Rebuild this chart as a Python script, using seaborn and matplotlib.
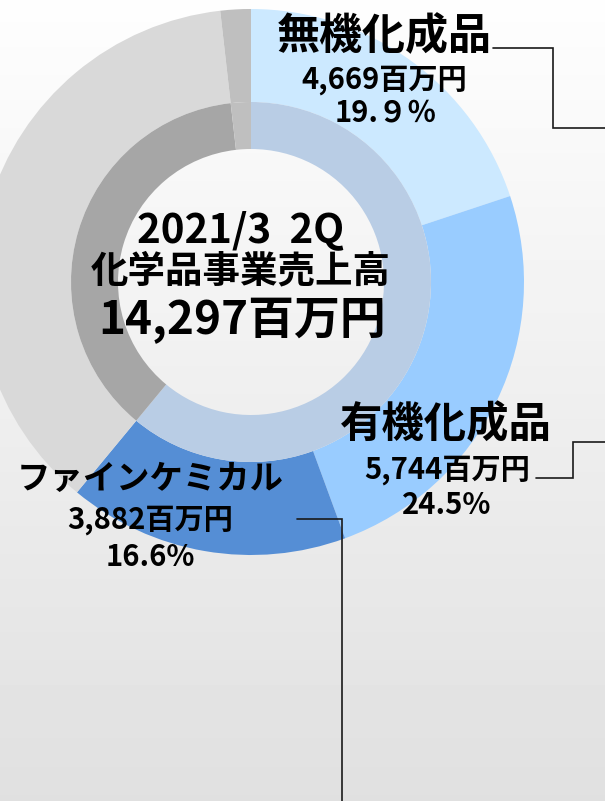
import numpy as np
import seaborn as sns
import matplotlib.pyplot as plt

sns.set_style("white")
plt.rcParams['font.family'] = ['Noto Sans CJK JP', 'DejaVu Sans']

# outer ring: chemical segments + other businesses
outer_labels = ['無機化成品', '有機化成品', 'ファインケミカル', 'その他', 'その他2']
outer_values = [19.9, 24.5, 16.6, 37.2, 1.8]
outer_amounts = ['4,669百万円', '5,744百万円', '3,882百万円']
outer_pcts = ['19.９％', '24.5%', '16.6%']

# inner ring: chemical total vs. rest
inner_values = [61.0, 37.2, 1.8]

outer_colors = sns.color_palette(['#cce9ff', '#99ccff', '#558ed5', '#d9d9d9', '#bfbfbf'])
inner_colors = sns.color_palette(['#b9cde5', '#a6a6a6', '#bfbfbf'])

W, H = 605, 801
fig = plt.figure(figsize=(6.05, 8.01), dpi=100)

# background gradient
bg = fig.add_axes([0, 0, 1, 1])
grad = np.linspace(0.995, 0.878, 256).reshape(-1, 1)
bg.imshow(grad, cmap='gray', vmin=0, vmax=1, aspect='auto', extent=[0, 1, 0, 1])
bg.axis('off')

ax = fig.add_axes([0, 0, 1, 1])
ax.patch.set_alpha(0)
cx, cy = 251, H - 282
ax.pie(outer_values, colors=outer_colors, radius=273, center=(cx, cy),
       startangle=90, counterclock=False, wedgeprops=dict(width=93, linewidth=0))
ax.pie(inner_values, colors=inner_colors, radius=180, center=(cx, cy),
       startangle=90, counterclock=False, wedgeprops=dict(width=47, linewidth=0))
ax.set_xlim(0, W)
ax.set_ylim(0, H)
ax.set_aspect('auto')
ax.axis('off')

def T(x, y, s, size):
    ax.text(x, H - y, s, ha='center', va='center', fontsize=size,
            fontweight='bold', color='black')

# segment labels
T(384, 36, outer_labels[0], 31)
T(384, 80, outer_amounts[0], 21)
T(386, 113, outer_pcts[0], 21)

T(446, 425, outer_labels[1], 30.5)
T(447, 470, outer_amounts[1], 21)
T(447, 505, outer_pcts[1], 21)

T(150, 480, outer_labels[2], 24)
T(150, 520, outer_amounts[2], 21)
T(150, 557, outer_pcts[2], 21)

# centre title
T(241, 231, '2021/3  2Q', 29)
T(241, 271, '化学品事業売上高', 27)
T(242, 321, '14,297百万円', 33)

# leader lines
def L(xs, ys):
    ax.plot(xs, [H - y for y in ys], color='#1a1a1a', lw=1.2, solid_joinstyle='miter')

L([493, 553, 553, 606], [48, 48, 128, 128])
L([536, 573, 573, 606], [478, 478, 442, 442])
L([297, 342, 342], [519, 519, 802])

fig.savefig('out.png', dpi=100)
